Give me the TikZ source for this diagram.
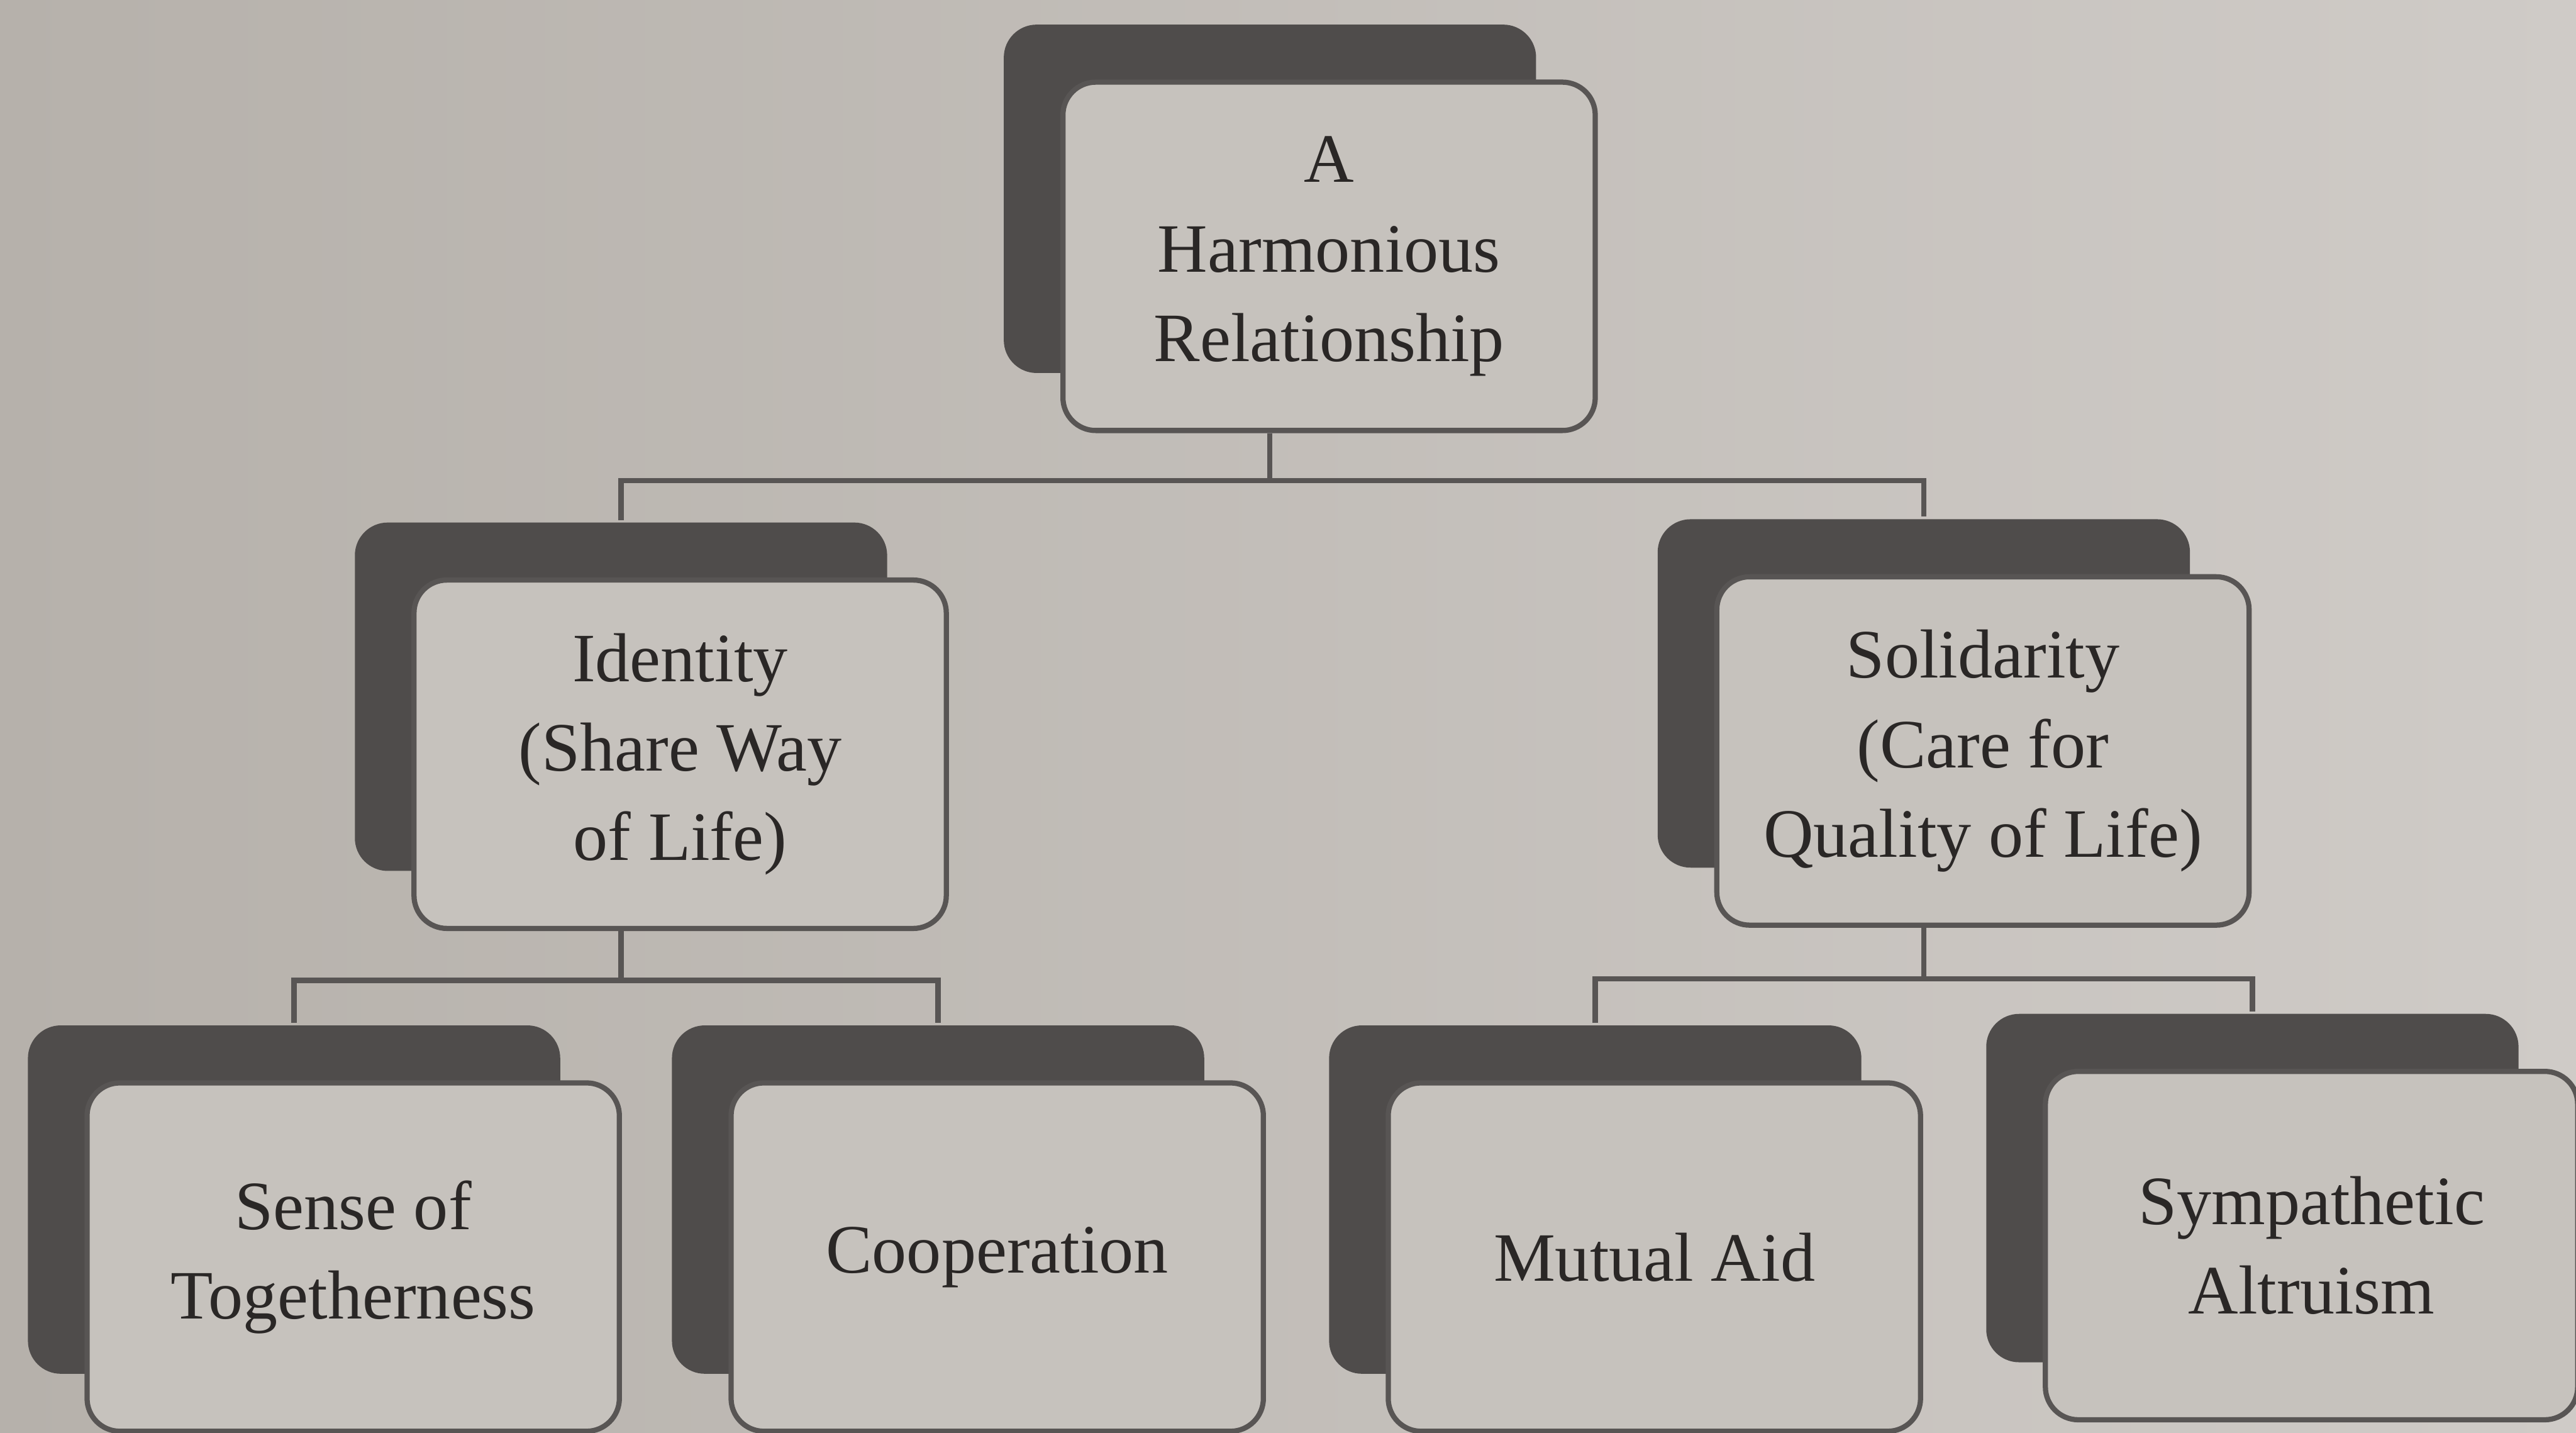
\documentclass[tikz,border=0pt]{standalone}
\usepackage{fontspec}
\setmainfont{Liberation Serif}
\usetikzlibrary{calc}
\definecolor{paper}{HTML}{C6C2BD}
\definecolor{paperdk}{HTML}{B6B1AB}
\definecolor{paperlt}{HTML}{CFCBC7}
\definecolor{shd}{HTML}{4F4C4B}
\definecolor{edg}{HTML}{585554}
\definecolor{ink}{HTML}{2A2726}

\begin{document}
\begin{tikzpicture}[line width=0.9pt,
      back/.style={rounded corners=2mm, fill=shd, minimum width=32.4mm,
                   minimum height=21.2mm, inner sep=0pt},
      card/.style={rounded corners=2mm, draw=edg, fill=paper,
                   minimum width=32.4mm, minimum height=21.2mm, align=center,
                   text=ink, font=\fontsize{12}{15.5}\selectfont},
      link/.style={draw=edg}]
    \clip (0,0) rectangle (15.68,8.72);
    \shade[left color=paperdk, right color=paperlt] (0,0) rectangle (15.68,8.72);
    \foreach \n/\x/\y/\t in {top/8.09/7.16/{A\\Harmonious\\Relationship},
        ident/4.14/4.13/{Identity\\(Share Way\\of Life)},
        solid/12.07/4.15/{Solidarity\\(Care for\\Quality of Life)},
        sense/2.15/1.07/{Sense of\\Togetherness},
        coop/6.07/1.07/{Cooperation},
        mutual/10.07/1.07/{Mutual Aid},
        symp/14.07/1.14/{Sympathetic\\Altruism}}{
      \node[back] (b\n) at (\x-0.36,\y+0.35) {};
      \node[card] (\n) at (\x,\y) {\t};
    }
    \draw[link] (btop.south |- top.south) -- ++(0,-0.29) coordinate (jtop);
    \draw[link] (bident.north) |- (jtop) -| (bsolid.north);
    \draw[link] (bident.south |- ident.south) -- ++(0,-0.3) coordinate (jident);
    \draw[link] (bsense.north) |- (jident) -| (bcoop.north);
    \draw[link] (bsolid.south |- solid.south) -- ++(0,-0.31) coordinate (jsolid);
    \draw[link] (bmutual.north) |- (jsolid) -| (bsymp.north);
\end{tikzpicture}
\end{document}
